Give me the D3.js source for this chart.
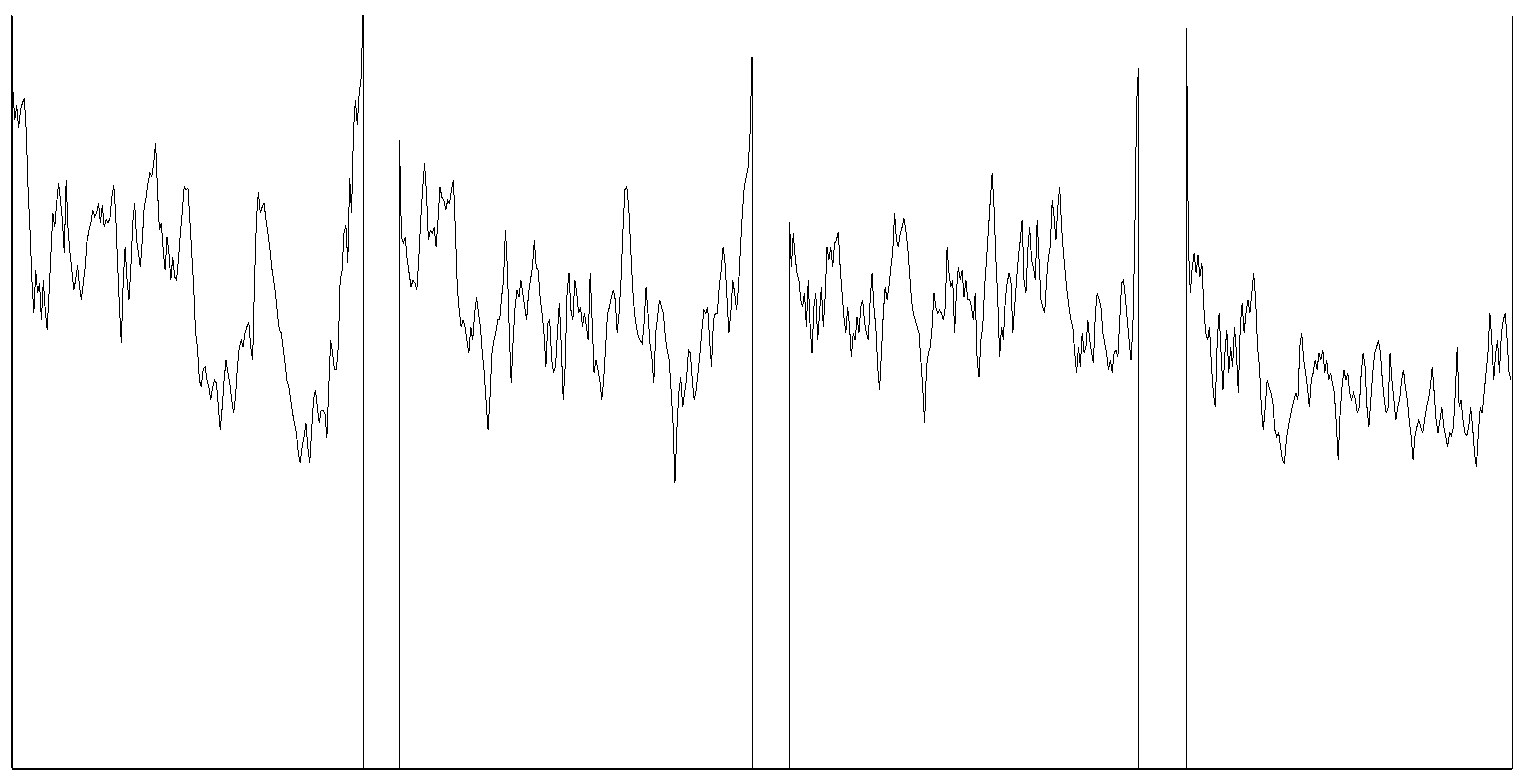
<!DOCTYPE html>
<html>
<head>
<meta charset="utf-8">
<script src="https://cdn.jsdelivr.net/npm/d3@7"></script>
<style>
  html, body { margin: 0; padding: 0; background: #fff; }
  svg { display: block; }
</style>
</head>
<body>
<script>
// ---- data (time in seconds, value in % of full scale) ----
const segTimes = [[0, 14.08], [15.54, 29.64], [31.14, 45.10], [47.02, 60]];

const seg1Values = [100, 90.0, 86.1, 88.0, 85.0, 87.4, 88.3, 89.0, 84.7,
  76.8, 71.4, 64.8, 60.4, 66.1, 63.1, 64.4, 59.5, 64.8, 60.8,
  58.2, 63.1, 68.4, 73.7, 71.8, 75.0, 77.7, 75.4, 72.8, 68.4,
  78.1, 71.4, 68.4, 66.1, 63.5, 64.8, 66.8, 63.9, 62.2, 64.4,
  66.5, 70.1, 71.4, 72.4, 74.1, 73.2, 73.7, 75.0, 72.4, 74.8,
  71.8, 72.8, 72.4, 73.0, 75.8, 77.4, 73.7, 67.1, 61.2, 56.4,
  64.8, 69.2, 64.8, 62.2, 66.5, 72.4, 75.0, 70.1, 68.4, 66.5,
  70.1, 74.5, 75.8, 77.7, 79.0, 78.5, 80.3, 83.0, 76.8, 71.4,
  72.4, 68.8, 66.1, 70.5, 68.4, 64.8, 67.9, 65.2, 64.8, 67.5,
  71.0, 73.7, 77.2, 76.8, 77.0, 72.8, 68.4, 63.9, 57.8, 55.9,
  51.5, 50.6, 52.9, 53.3, 51.5, 50.6, 48.9, 50.6, 51.5, 51.1,
  47.9, 44.9, 47.9, 51.5, 54.2, 52.5, 51.1, 48.9, 47.1, 49.3,
  53.3, 55.9, 56.8, 55.9, 57.8, 58.6, 59.1, 55.9, 54.2, 64.8,
  72.8, 76.5, 73.7, 74.5, 75.0, 72.8, 71.0, 69.2, 66.5, 64.8,
  63.1, 60.4, 58.2, 57.8, 55.9, 53.8, 51.5, 50.6, 48.9, 47.1,
  45.8, 44.5, 41.8, 40.5, 42.6, 44.0, 45.8, 42.6, 40.5, 44.9,
  48.9, 50.2, 47.9, 45.8, 47.5, 47.5, 47.1, 43.8, 50.6, 56.8,
  55.1, 52.9, 52.9, 55.9, 64.8, 66.1, 71.0, 72.1, 67.1, 78.4,
  73.7, 84.7, 88.7, 85.4, 89.6, 91.6, 100];

const seg2Values = [83.4, 70.5, 69.7, 70.5, 67.5, 65.7, 63.9, 64.8, 64.4, 63.5,
  67.5, 72.8, 76.8, 80.3, 76.4, 70.1, 71.4, 71.0, 71.8, 69.2,
  72.8, 77.2, 75.8, 75.4, 74.1, 75.4, 75.0, 76.8, 78.1, 71.4,
  63.9, 60.8, 58.6, 59.5, 58.6, 56.8, 55.1, 58.6, 56.8, 60.4,
  62.5, 60.4, 58.6, 55.1, 52.5, 48.5, 44.9, 49.3, 55.1, 56.8,
  57.8, 59.5, 59.5, 62.5, 64.8, 71.4, 66.5, 57.8, 51.1, 56.8,
  61.2, 63.5, 62.5, 64.8, 63.1, 61.2, 59.5, 63.1, 64.8, 66.5,
  70.1, 66.5, 66.1, 62.5, 60.4, 57.8, 53.3, 59.1, 59.5, 54.2,
  52.5, 53.3, 57.8, 61.8, 55.9, 48.9, 53.3, 63.1, 65.7, 60.8,
  59.5, 64.8, 63.1, 60.4, 61.2, 58.6, 60.4, 58.6, 56.8, 65.7,
  59.5, 52.5, 54.2, 52.9, 51.5, 48.9, 51.5, 55.9, 60.4, 61.2,
  62.5, 63.5, 62.2, 57.8, 60.4, 64.8, 71.4, 76.8, 77.2, 74.5,
  69.2, 63.9, 60.4, 58.6, 57.2, 56.8, 56.4, 59.1, 63.9, 60.4,
  56.4, 54.6, 51.1, 57.8, 59.9, 62.2, 61.2, 60.4, 57.2, 55.5,
  54.2, 50.2, 45.8, 37.8, 44.9, 49.8, 51.9, 47.9, 49.8, 51.5,
  55.5, 55.1, 51.5, 48.9, 50.2, 52.5, 55.1, 58.2, 60.8, 60.4,
  61.2, 56.8, 53.3, 59.5, 60.4, 60.4, 63.9, 66.1, 69.2, 67.1,
  62.5, 57.8, 60.4, 64.8, 63.1, 60.8, 63.9, 69.2, 73.7, 77.2,
  78.5, 79.8, 84.3, 94.4];

const seg3Values = [72.5, 66.5, 71.0, 67.9, 65.7, 64.8, 62.2, 61.2, 63.1, 58.6,
  64.8, 58.6, 55.1, 61.2, 63.1, 56.8, 60.4, 63.9, 58.6, 62.5,
  69.2, 67.5, 69.2, 66.5, 69.7, 70.1, 71.2, 66.5, 63.1, 59.9,
  57.8, 61.2, 58.6, 54.6, 57.8, 56.8, 59.9, 57.8, 61.2, 62.2,
  59.1, 57.8, 56.8, 62.2, 65.7, 61.2, 58.6, 53.3, 50.2, 55.1,
  60.4, 63.9, 62.2, 63.9, 66.5, 68.4, 73.7, 70.1, 69.2, 71.0,
  71.8, 73.0, 71.4, 69.2, 65.7, 62.2, 60.4, 59.5, 58.6, 57.8,
  54.2, 50.6, 45.8, 53.3, 55.1, 55.9, 58.6, 63.1, 61.2, 60.4,
  60.8, 60.4, 59.5, 61.2, 69.2, 65.7, 63.9, 64.8, 57.8, 63.5,
  66.5, 64.8, 66.1, 62.5, 64.8, 62.2, 62.2, 61.2, 59.5, 63.1,
  54.2, 51.9, 56.8, 58.6, 63.9, 67.5, 71.4, 75.4, 79.0, 74.5,
  67.5, 62.2, 54.6, 58.6, 56.8, 62.2, 64.4, 65.7, 64.8, 57.8,
  61.2, 64.8, 67.9, 70.1, 72.8, 64.8, 63.1, 68.8, 71.8, 67.5,
  66.5, 64.8, 72.8, 67.5, 62.2, 61.2, 60.4, 64.8, 67.9, 69.2,
  75.4, 73.2, 70.1, 74.5, 77.2, 71.8, 68.4, 65.7, 63.1, 61.2,
  59.5, 58.6, 55.1, 52.5, 55.9, 53.3, 57.8, 55.1, 55.9, 59.5,
  56.8, 55.1, 53.8, 60.4, 63.1, 62.2, 61.2, 57.8, 56.4, 55.1,
  52.9, 54.2, 52.5, 55.1, 55.5, 54.6, 59.5, 64.4, 64.8, 62.5,
  59.5, 56.8, 54.2, 58.6, 70.1, 88.3, 93.0];

const seg4Values = [98.3, 69.2, 63.1, 66.5, 68.4, 65.7, 68.1, 65.2, 67.1, 61.2,
  57.8, 56.8, 58.6, 53.3, 49.8, 47.9, 56.8, 60.4, 55.1, 50.2,
  55.1, 58.2, 52.5, 55.9, 53.3, 58.6, 55.1, 49.8, 58.6, 61.8,
  57.8, 60.4, 62.2, 60.4, 63.1, 65.7, 62.2, 55.9, 53.3, 47.9,
  44.9, 47.9, 51.5, 50.6, 49.8, 48.5, 44.9, 44.0, 44.5, 42.6,
  40.9, 40.5, 43.6, 45.3, 46.6, 47.9, 48.9, 49.8, 48.9, 55.9,
  57.8, 54.2, 52.5, 50.6, 47.9, 51.5, 52.5, 54.2, 52.9, 55.1,
  54.2, 55.5, 52.5, 54.2, 51.5, 52.5, 51.1, 49.8, 45.8, 40.9,
  47.1, 50.6, 52.9, 51.5, 52.5, 49.8, 48.9, 49.8, 48.9, 47.1,
  47.9, 52.5, 55.1, 53.3, 47.9, 45.3, 48.9, 52.5, 55.1, 55.9,
  56.8, 55.1, 51.5, 48.9, 47.1, 47.9, 55.1, 51.5, 48.9, 46.2,
  47.9, 48.9, 51.5, 52.9, 50.6, 48.9, 46.2, 44.1, 40.9, 44.1,
  45.3, 46.2, 45.3, 44.5, 46.2, 47.9, 48.9, 50.6, 53.3, 49.8,
  46.2, 44.5, 46.2, 47.9, 45.3, 44.1, 42.6, 44.5, 44.1, 45.3,
  49.8, 55.9, 47.9, 48.9, 46.2, 44.5, 44.1, 45.3, 47.9, 45.3,
  41.8, 40.0, 44.5, 47.9, 47.1, 49.8, 52.5, 55.1, 60.4, 56.8,
  51.5, 55.1, 56.8, 52.5, 57.8, 59.5, 60.4, 56.8, 52.5, 51.5];

const segments = [seg1Values, seg2Values, seg3Values, seg4Values];
const timeDomain = [0, 60];
const valueDomain = [0, 100];

// ---- chart ----
const W = 1521, H = 778;
const margin = { left: 11, right: 10, top: 15, bottom: 10 };

const svg = d3.select("body").append("svg")
  .attr("width", W).attr("height", H)
  .style("background", "#fff");

const x = d3.scaleLinear().domain(timeDomain).range([margin.left, W - margin.right]);
const y = d3.scaleLinear().domain(valueDomain).range([H - margin.bottom, margin.top]);

// build one continuous series: segments joined by zero-level gaps
const points = [];
segments.forEach((vals, i) => {
  const [t0, t1] = segTimes[i];
  const n = vals.length;
  points.push([t0, 0]);
  vals.forEach((v, j) => points.push([t0 + j * (t1 - t0) / (n - 1), v]));
  if (i < segments.length - 1) points.push([t1, 0]);
});

const line = d3.line().x(d => x(d[0])).y(d => y(d[1]));

svg.append("path")
  .datum(points)
  .attr("d", line)
  .attr("fill", "none")
  .attr("stroke", "#000")
  .attr("stroke-width", 1)
  .attr("shape-rendering", "crispEdges");

// frame: left, right and bottom axis lines, no ticks
const styleAxis = g => {
  g.selectAll("path.domain").attr("stroke", "#000").attr("shape-rendering", "crispEdges");
  g.selectAll(".tick").remove();
};

svg.append("g")
  .attr("transform", `translate(${x(timeDomain[0]) + 0.5},0)`)
  .call(d3.axisLeft(y).tickValues([]).tickSizeOuter(0))
  .call(styleAxis);

svg.append("g")
  .attr("transform", `translate(${x(timeDomain[1]) + 0.5},0)`)
  .call(d3.axisRight(y).tickValues([]).tickSizeOuter(0))
  .call(styleAxis);

svg.append("g")
  .attr("transform", `translate(0,${y(0)})`)
  .call(d3.axisBottom(x).tickValues([]).tickSizeOuter(0))
  .call(styleAxis)
  .selectAll("path.domain").attr("stroke-width", 2);
</script>
</body>
</html>
